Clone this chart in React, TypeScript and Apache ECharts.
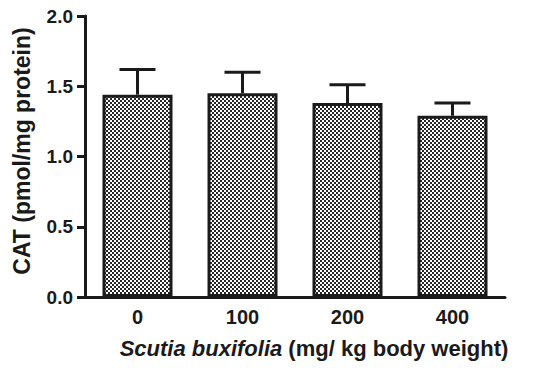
import React, { useEffect, useRef } from "react";
import * as echarts from "echarts";

const categories = ["0", "100", "200", "400"];
const meanValues = [1.44, 1.45, 1.38, 1.29];
const errorTops = [1.62, 1.60, 1.51, 1.38];
const yTicks = { min: 0, max: 2, interval: 0.5 };

function makePattern(): HTMLCanvasElement {
  const c = document.createElement("canvas");
  c.width = 4;
  c.height = 4;
  const ctx = c.getContext("2d")!;
  ctx.fillStyle = "#ffffff";
  ctx.fillRect(0, 0, 4, 4);
  ctx.fillStyle = "#262626";
  ctx.fillRect(0, 0, 2, 2);
  ctx.fillRect(2, 2, 2, 2);
  return c;
}

export default function App() {
  const ref = useRef<HTMLDivElement>(null);
  useEffect(() => {
    if (!ref.current) return;
    const chart = echarts.init(ref.current, null, { renderer: "svg" });
    const font = "Arial, 'Liberation Sans', Helvetica, sans-serif";
    const pattern = makePattern();
    const errData = categories.map((_, i) => [i, meanValues[i], errorTops[i]]);
    chart.setOption({
      animation: false,
      backgroundColor: "#ffffff",
      grid: { left: 85, right: 45, top: 16, bottom: 84 },
      xAxis: {
        type: "category",
        data: categories,
        boundaryGap: true,
        axisLine: { lineStyle: { color: "#1a1a1a", width: 3 } },
        axisTick: { alignWithLabel: true, length: 7, lineStyle: { color: "#1a1a1a", width: 3 } },
        axisLabel: { color: "#1a1a1a", fontFamily: font, fontWeight: "bold", fontSize: 20, margin: 10 },
      },
      yAxis: {
        type: "value",
        min: yTicks.min,
        max: yTicks.max,
        interval: yTicks.interval,
        splitLine: { show: false },
        axisLine: { show: true, lineStyle: { color: "#1a1a1a", width: 3 } },
        axisTick: { show: true, length: 8, lineStyle: { color: "#1a1a1a", width: 3 } },
        axisLabel: {
          color: "#1a1a1a",
          fontFamily: font,
          fontWeight: "bold",
          fontSize: 19,
          margin: 12,
          formatter: (v: number) => v.toFixed(1),
        },
      },
      graphic: [
        {
          type: "text",
          x: 22,
          y: 151,
          rotation: Math.PI / 2,
          style: {
            text: "CAT (pmol/mg protein)",
            font: `bold 23px ${font}`,
            fill: "#1a1a1a",
            textAlign: "center",
            textVerticalAlign: "middle",
          },
        },
        {
          type: "text",
          x: 314,
          y: 348,
          style: {
            text: "{i|Scutia buxifolia}{n| (mg/ kg body weight)}",
            textAlign: "center",
            textVerticalAlign: "middle",
            fill: "#1a1a1a",
            rich: {
              i: { fontFamily: font, fontWeight: "bold", fontStyle: "italic", fontSize: 22, fill: "#1a1a1a" },
              n: { fontFamily: font, fontWeight: "bold", fontSize: 22, fill: "#1a1a1a" },
            },
          },
        },
      ],
      series: [
        {
          type: "custom",
          z: 1,
          data: errData,
          renderItem: (params: any, api: any) => {
            const x = api.value(0);
            const top = api.coord([x, api.value(2)]);
            const base = api.coord([x, api.value(1)]);
            const half = 18;
            return {
              type: "group",
              children: [
                {
                  type: "line",
                  shape: { x1: top[0], y1: base[1], x2: top[0], y2: top[1] },
                  style: { stroke: "#1a1a1a", lineWidth: 3 },
                },
                {
                  type: "line",
                  shape: { x1: top[0] - half, y1: top[1], x2: top[0] + half, y2: top[1] },
                  style: { stroke: "#1a1a1a", lineWidth: 3 },
                },
              ],
            };
          },
        },
        {
          type: "bar",
          z: 2,
          data: meanValues,
          barWidth: 70,
          itemStyle: {
            color: { image: pattern, repeat: "repeat" },
            borderColor: "#1a1a1a",
            borderWidth: 3,
          },
        },
      ],
    });
    return () => chart.dispose();
  }, []);
  return <div ref={ref} style={{ width: 550, height: 381, position: "absolute", left: 0, top: 0 }} />;
}
